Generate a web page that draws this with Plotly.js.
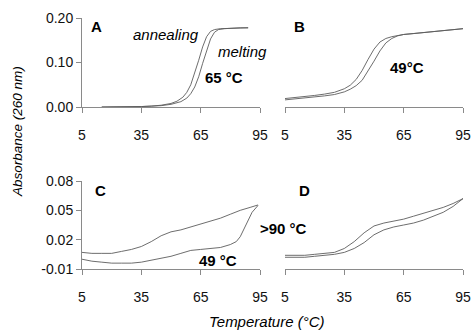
<!DOCTYPE html>
<html>
<head>
<meta charset="utf-8">
<script src="https://cdn.plot.ly/plotly-3.0.1.min.js"></script>
<style>html,body{margin:0;padding:0;background:#fff;}#chart{width:472px;height:331px;}</style>
</head>
<body>
<div id="chart"></div>
<script>
// Panel A
var A_annealT = [15, 20, 25, 30, 35, 40, 45, 50, 53, 56, 58, 60, 62, 64, 66, 68, 70, 72, 75, 80, 85, 89];
var A_annealV = [0, 0, 0, 0, 0.001, 0.002, 0.004, 0.008, 0.013, 0.022, 0.033, 0.05, 0.075, 0.105, 0.135, 0.158, 0.170, 0.174, 0.176, 0.177, 0.178, 0.178];
var A_meltT = [15, 20, 25, 30, 35, 40, 45, 50, 55, 58, 60, 62, 64, 66, 68, 70, 72, 74, 77, 80, 85, 89];
var A_meltV = [0, 0, 0, 0, 0.001, 0.002, 0.003, 0.006, 0.012, 0.02, 0.03, 0.045, 0.068, 0.098, 0.128, 0.153, 0.168, 0.174, 0.176, 0.177, 0.178, 0.178];
// Panel B
var B_T = [5, 10, 15, 20, 25, 30, 35, 38, 41, 44, 47, 50, 53, 56, 59, 62, 65, 70, 75, 80, 85, 90, 95];
var B_upper = [0.019, 0.021, 0.023, 0.026, 0.029, 0.033, 0.041, 0.049, 0.062, 0.082, 0.107, 0.130, 0.146, 0.154, 0.158, 0.161, 0.163, 0.165, 0.167, 0.170, 0.172, 0.174, 0.176];
var B_lower = [0.016, 0.018, 0.020, 0.022, 0.025, 0.028, 0.034, 0.040, 0.048, 0.060, 0.080, 0.103, 0.126, 0.144, 0.154, 0.160, 0.163, 0.165, 0.167, 0.170, 0.172, 0.174, 0.176];
// Panel C
var C_upperT = [5, 10, 15, 20, 25, 30, 35, 40, 45, 50, 55, 60, 65, 70, 75, 80, 85, 90, 94];
var C_upperV = [0.007, 0.006, 0.006, 0.006, 0.008, 0.010, 0.013, 0.018, 0.024, 0.028, 0.030, 0.033, 0.036, 0.039, 0.042, 0.046, 0.050, 0.053, 0.0555];
var C_lowerT = [5, 10, 15, 20, 25, 30, 35, 40, 45, 50, 55, 60, 65, 70, 75, 80, 83, 85, 87, 89, 91, 94];
var C_lowerV = [0.0, -0.002, -0.003, -0.004, -0.004, -0.004, -0.003, -0.001, 0.001, 0.003, 0.006, 0.009, 0.010, 0.011, 0.012, 0.015, 0.018, 0.023, 0.031, 0.039, 0.048, 0.055];
// Panel D
var D_T = [5, 10, 15, 20, 25, 30, 35, 40, 45, 50, 55, 60, 65, 70, 75, 80, 85, 90, 95];
var D_upper = [0.004, 0.004, 0.004, 0.005, 0.006, 0.007, 0.011, 0.018, 0.027, 0.034, 0.037, 0.039, 0.041, 0.044, 0.047, 0.050, 0.053, 0.057, 0.062];
var D_lower = [0.002, 0.002, 0.002, 0.003, 0.004, 0.005, 0.007, 0.011, 0.017, 0.025, 0.030, 0.033, 0.035, 0.037, 0.040, 0.044, 0.048, 0.054, 0.062];

var xTicks = [5, 35, 65, 95];
var yTicksTop = [0, 0.1, 0.2];
var yTickTextTop = ['0.00', '0.10', '0.20'];
var yTicksBot = [-0.01, 0.02, 0.05, 0.08];
var yTickTextBot = ['-0.01', '0.02', '0.05', '0.08'];

var lineStyle = {color: '#5c5c5c', width: 0.9};
function tr(x, y, xa, ya) {
  return {x: x, y: y, xaxis: xa, yaxis: ya, mode: 'lines', line: lineStyle, hoverinfo: 'skip', showlegend: false};
}
var data = [
  tr(A_annealT, A_annealV, 'x', 'y'),
  tr(A_meltT, A_meltV, 'x', 'y'),
  tr(B_T, B_upper, 'x2', 'y2'),
  tr(B_T, B_lower, 'x2', 'y2'),
  tr(C_upperT, C_upperV, 'x3', 'y3'),
  tr(C_lowerT, C_lowerV, 'x3', 'y3'),
  tr(D_T, D_upper, 'x4', 'y4'),
  tr(D_T, D_lower, 'x4', 'y4')
];

var W = 472, H = 331;
function px(a, b) { return [a / W, b / W]; }
function py(top, bottom) { return [(H - bottom) / H, (H - top) / H]; }

var tickFont = {family: 'Liberation Sans, Arial, sans-serif', size: 14, color: '#111'};
function xax(dom, anchor) {
  return {domain: dom, anchor: anchor, range: [5, 95], tickvals: xTicks, ticktext: xTicks.map(String),
    showline: true, linecolor: '#8a8a8a', linewidth: 1, ticks: 'outside', ticklen: 5, tickcolor: '#8a8a8a',
    showgrid: false, zeroline: false, tickfont: tickFont, ticklabelstandoff: 10, fixedrange: true};
}
function yax(dom, anchor, range, tv, tt, show) {
  return {domain: dom, anchor: anchor, range: range, tickvals: tv, ticktext: tt,
    showline: show, linecolor: '#8a8a8a', linewidth: 1, ticks: show ? 'outside' : '', ticklen: 5, tickcolor: '#8a8a8a',
    showticklabels: show, showgrid: false, zeroline: false, tickfont: tickFont, fixedrange: true};
}

var annFont = {family: 'Liberation Sans, Arial, sans-serif', size: 15, color: '#000'};
function bold(t) { return '<b>' + t + '</b>'; }
function ital(t) { return '<i>' + t + '</i>'; }
function ann(text, x, y, xref, yref, extra) {
  var a = {text: text, x: x, y: y, xref: xref, yref: yref, showarrow: false, font: annFont, xanchor: 'center', yanchor: 'middle'};
  if (extra) for (var k in extra) a[k] = extra[k];
  return a;
}

var layout = {
  width: W, height: H,
  margin: {l: 0, r: 0, t: 0, b: 0},
  paper_bgcolor: '#fff', plot_bgcolor: 'rgba(0,0,0,0)',
  showlegend: false,
  xaxis: xax(px(82, 260), 'y'),
  yaxis: yax(py(18, 107), 'x', [0, 0.2], yTicksTop, yTickTextTop, true),
  xaxis2: xax(px(285, 463), 'y2'),
  yaxis2: yax(py(18, 107), 'x2', [0, 0.2], yTicksTop, yTickTextTop, false),
  xaxis3: xax(px(82, 260), 'y3'),
  yaxis3: yax(py(181, 269), 'x3', [-0.01, 0.08], yTicksBot, yTickTextBot, true),
  xaxis4: xax(px(285, 463), 'y4'),
  yaxis4: yax(py(181, 269), 'x4', [-0.01, 0.08], yTicksBot, yTickTextBot, false),
  annotations: [
    ann(bold('A'), 12.1, 0.18, 'x', 'y'),
    ann(ital('annealing'), 47.4, 0.162, 'x', 'y'),
    ann(ital('melting'), 243 / W, (H - 51) / H, 'paper', 'paper'),
    ann(bold('65 °C'), 76.7, 0.067, 'x', 'y'),
    ann(bold('B'), 12.1, 0.182, 'x2', 'y2'),
    ann(bold('49°C'), 66.7, 0.088, 'x2', 'y2'),
    ann(bold('C'), 14.1, 0.0698, 'x3', 'y3'),
    ann(bold('49 °C'), 73.7, -0.0018, 'x3', 'y3'),
    ann(bold('>90 °C'), 283 / W, (H - 228) / H, 'paper', 'paper'),
    ann(bold('D'), 15.1, 0.0708, 'x4', 'y4'),
    ann(ital('Absorbance (260 nm)'), 17 / W, (H - 132) / H, 'paper', 'paper', {textangle: -90, font: {family: 'Liberation Sans, Arial, sans-serif', size: 13.5, color: '#000'}}),
    ann(ital('Temperature (°C)'), 266 / W, (H - 321) / H, 'paper', 'paper', {font: {family: 'Liberation Sans, Arial, sans-serif', size: 15, color: '#000'}})
  ]
};

Plotly.newPlot('chart', data, layout, {staticPlot: true, displayModeBar: false});
</script>
</body>
</html>
